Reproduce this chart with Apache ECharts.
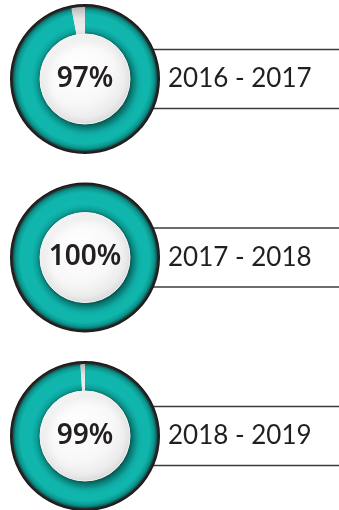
<!DOCTYPE html>
<html>
<head>
<meta charset="utf-8">
<script src="https://cdn.jsdelivr.net/npm/echarts@6/dist/echarts.min.js"></script>
<style>
  html, body { margin: 0; padding: 0; background: #ffffff; }
  #chart { width: 339px; height: 510px; }
</style>
</head>
<body>
<div id="chart"></div>
<script>
// Completion rate per school year
const periods = ['2016 - 2017', '2017 - 2018', '2018 - 2019'];
const rates = [97, 100, 99];

const chart = echarts.init(document.getElementById('chart'), null, { renderer: 'canvas' });

// layout of each dial
const cx = 85;
const firstCy = 79;
const rowGap = 178.5;
const innerR = 45;
const ringR = 72;
const outerR = 75;

const tealRing = {
  type: 'radial', x: 0.5, y: 0.5, r: 0.5,
  colorStops: [
    { offset: 0.60, color: '#06736d' },
    { offset: 0.67, color: '#0da59d' },
    { offset: 0.75, color: '#10b7ae' },
    { offset: 0.90, color: '#10b5ac' },
    { offset: 0.96, color: '#0b978f' },
    { offset: 1.00, color: '#075e59' }
  ]
};

const gapFill = {
  type: 'linear', x: 0, y: 0, x2: 0, y2: 1,
  colorStops: [
    { offset: 0, color: '#b9b9b9' },
    { offset: 0.4, color: '#e4e4e4' },
    { offset: 1, color: '#f1f1f1' }
  ]
};

const faceFill = {
  type: 'radial', x: 0.42, y: 0.38, r: 0.65,
  colorStops: [
    { offset: 0, color: '#ffffff' },
    { offset: 0.6, color: '#f8f8f8' },
    { offset: 0.85, color: '#ececec' },
    { offset: 1, color: '#dddddd' }
  ]
};

const series = [];
const graphic = [];

rates.forEach((rate, i) => {
  const cy = firstCy + i * rowGap;
  const center = [cx, cy];

  // dark outer rim
  series.push({
    type: 'pie', silent: true, animation: false,
    center, radius: [ringR - 1, outerR],
    label: { show: false }, labelLine: { show: false },
    emphasis: { disabled: true },
    data: [{ value: 1, itemStyle: { color: {
      type: 'radial', x: 0.5, y: 0.5, r: 0.5,
      colorStops: [
        { offset: 0.94, color: '#3a3a3a' },
        { offset: 1, color: '#151515' }
      ]
    } } }]
  });

  // teal progress ring with the remaining share as a pale gap
  series.push({
    type: 'pie', silent: true, animation: false,
    center, radius: [innerR, ringR],
    startAngle: 90, clockwise: true,
    stillShowZeroSum: true,
    label: { show: false }, labelLine: { show: false },
    emphasis: { disabled: true },
    itemStyle: { borderWidth: 0 },
    data: [
      { value: rate, itemStyle: { color: tealRing } },
      { value: 100 - rate, itemStyle: { color: gapFill } }
    ]
  });

  // raised white face with the percentage
  series.push({
    type: 'pie', silent: true, animation: false,
    center, radius: [0, innerR],
    emphasis: { disabled: true },
    itemStyle: {
      color: faceFill,
      borderColor: '#f4f4f4', borderWidth: 1,
      shadowBlur: 10, shadowOffsetX: 3, shadowOffsetY: 4,
      shadowColor: 'rgba(0,0,0,0.45)'
    },
    label: {
      show: true, position: 'center',
      formatter: () => rate + '%',
      fontFamily: 'Noto Sans', fontWeight: 600, fontSize: 28,
      color: '#231f20'
    },
    labelLine: { show: false },
    data: [{ value: rate, name: periods[i] }]
  });

  // bracket lines framing the period label
  [-29.5, 29.5].forEach(dy => {
    graphic.push({
      type: 'line', silent: true, z: -1,
      shape: { x1: cx + 68, y1: cy + dy, x2: 339, y2: cy + dy },
      style: { stroke: '#3c3c3c', lineWidth: 1.5 }
    });
  });

  graphic.push({
    type: 'text', silent: true,
    x: 168, y: cy,
    style: {
      text: periods[i],
      fontFamily: 'Lato', fontWeight: 400, fontSize: 26,
      fill: '#231f20',
      textVerticalAlign: 'middle', verticalAlign: 'middle'
    }
  });
});

chart.setOption({
  backgroundColor: '#ffffff',
  animation: false,
  series,
  graphic
});
</script>
</body>
</html>
